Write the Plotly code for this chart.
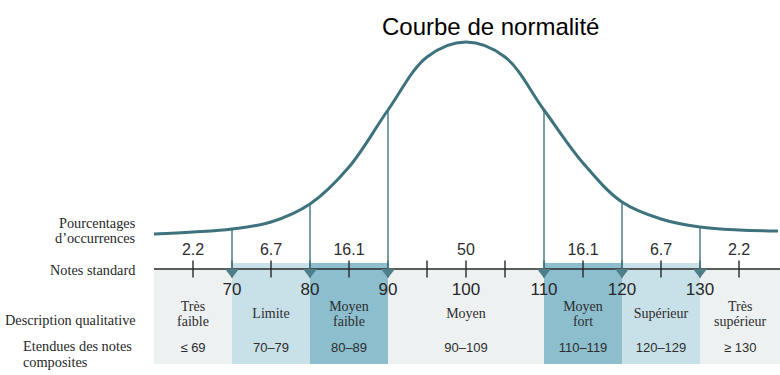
import plotly.graph_objects as go

# ---------------- data ----------------
title_text = "Courbe de normalité"

# normal curve (height above the score axis, in px-like units)
curve_x = [60, 65, 70, 75, 80, 85, 90, 95, 100, 105, 110, 115, 120, 125, 130, 135, 140]
curve_h = [35, 37, 40, 47, 65, 102, 159, 212, 227, 212, 159, 106, 67, 50, 42, 39, 38]

# boundaries with arrows
boundaries = [70, 80, 90, 110, 120, 130]

# percentages of occurrences
pct_x = [65, 75, 85, 100, 115, 125, 135]
pct_labels = ["2.2", "6.7", "16.1", "50", "16.1", "6.7", "2.2"]

# standard scores
tick_vals = [65, 70, 75, 80, 85, 90, 95, 100, 105, 110, 115, 120, 125, 130, 135]
score_labels = [70, 80, 90, 100, 110, 120, 130]

# qualitative categories
cell_lo = [60, 70, 80, 90, 110, 120, 130]
cell_hi = [70, 80, 90, 110, 120, 130, 140.3]
desc_line1 = ["Très", "", "Moyen", "", "Moyen", "", "Très"]
desc_line2 = ["faible", "", "faible", "", "fort", "", "supérieur"]
desc_single = ["", "Limite", "", "Moyen", "", "Supérieur", ""]
cell_range = ["≤ 69", "70–79", "80–89", "90–109", "110–119", "120–129", "≥ 130"]
cell_level = [0, 1, 2, 0, 2, 1, 0]  # shade level

row_label_lines = ["Pourcentages", "d’occurrences", "Notes standard",
                   "Description qualitative", "Etendues des notes", "composites"]

# ---------------- styles ----------------
TEAL = "rgb(62,114,124)"
TEAL_L = "rgb(78,126,136)"
shade_cols = ["rgb(238,241,242)", "rgb(200,224,232)", "rgb(140,190,206)"]
shade_top = [0, 6, 6]
BASE = -95
SERIF = "Liberation Serif, Times New Roman, serif"
SANS = "Liberation Sans, Arial, sans-serif"
TXT = "rgb(45,45,45)"

fig = go.Figure()

# shaded cells
centers = [(a + b) / 2 for a, b in zip(cell_lo, cell_hi)]
widths = [b - a for a, b in zip(cell_lo, cell_hi)]
fig.add_trace(go.Bar(
    x=centers, width=widths, base=[BASE] * len(centers),
    y=[shade_top[l] - BASE for l in cell_level],
    marker=dict(color=[shade_cols[l] for l in cell_level], line=dict(width=0)),
    hoverinfo="skip", showlegend=False))

# axis line
fig.add_trace(go.Scatter(x=[cell_lo[0], cell_hi[-1]], y=[0, 0], mode="lines",
                         line=dict(color="rgb(40,40,40)", width=1.6),
                         hoverinfo="skip", showlegend=False))
# ticks (crossing)
fig.add_trace(go.Scatter(x=tick_vals, y=[0] * len(tick_vals), mode="markers",
                         marker=dict(symbol="line-ns", size=12,
                                     line=dict(color="rgb(40,40,40)", width=1.4)),
                         hoverinfo="skip", showlegend=False))

# vertical lines from curve to axis
vx, vy = [], []
for b in boundaries:
    h = curve_h[curve_x.index(b)]
    vx += [b, b, None]
    vy += [h, -2, None]
fig.add_trace(go.Scatter(x=vx, y=vy, mode="lines", line=dict(color=TEAL_L, width=1.5),
                         hoverinfo="skip", showlegend=False))
# arrowheads
fig.add_trace(go.Scatter(x=boundaries, y=[-3] * len(boundaries), mode="markers",
                         marker=dict(symbol="triangle-down", size=12, color=TEAL_L),
                         hoverinfo="skip", showlegend=False))

# curve
fig.add_trace(go.Scatter(x=curve_x, y=curve_h, mode="lines",
                         line=dict(color=TEAL, width=3, shape="spline", smoothing=1.0),
                         hoverinfo="skip", showlegend=False))

# percentages
fig.add_trace(go.Scatter(x=pct_x, y=[18] * len(pct_x), mode="text", text=pct_labels,
                         textfont=dict(family=SANS, size=16, color=TXT),
                         hoverinfo="skip", showlegend=False))
# score labels
fig.add_trace(go.Scatter(x=score_labels, y=[-22] * len(score_labels), mode="text",
                         text=[str(s) for s in score_labels],
                         textfont=dict(family=SANS, size=17, color="rgb(40,40,40)"),
                         hoverinfo="skip", showlegend=False))
# descriptions
desc_font = dict(family=SERIF, size=14, color=TXT)
fig.add_trace(go.Scatter(x=centers, y=[269 - 307] * len(centers), mode="text", text=desc_line1,
                         textfont=desc_font, hoverinfo="skip", showlegend=False))
fig.add_trace(go.Scatter(x=centers, y=[269 - 322] * len(centers), mode="text", text=desc_line2,
                         textfont=desc_font, hoverinfo="skip", showlegend=False))
fig.add_trace(go.Scatter(x=centers, y=[269 - 314] * len(centers), mode="text", text=desc_single,
                         textfont=desc_font, hoverinfo="skip", showlegend=False))
# ranges
fig.add_trace(go.Scatter(x=centers, y=[269 - 349] * len(centers), mode="text", text=cell_range,
                         textfont=dict(family=SANS, size=13, color=TXT),
                         hoverinfo="skip", showlegend=False))

# row labels (left)
ann = []
row_pos = [(138, 223, "right"), (138, 238, "right"), (137, 270, "right"),
           (138, 320, "right"), (21, 346, "left"), (21, 362, "left")]
for t, (px, py, al) in zip(row_label_lines, row_pos):
    ann.append(dict(x=px / 780, y=1 - py / 375, xref="paper", yref="paper", text=t,
                    showarrow=False, xanchor=al, yanchor="middle", align=al,
                    font=dict(family=SERIF, size=14.3, color="rgb(40,40,40)")))
ann.append(dict(x=490 / 780, y=1 - 27 / 375, xref="paper", yref="paper", text=title_text,
                showarrow=False, xanchor="center", yanchor="middle",
                font=dict(family=SANS, size=24, color="black")))

fig.update_layout(
    width=780, height=375, margin=dict(l=0, r=0, t=0, b=0),
    paper_bgcolor="white", plot_bgcolor="white",
    xaxis=dict(range=[70 - 232 / 7.8, 70 + 548 / 7.8], visible=False, fixedrange=True),
    yaxis=dict(range=[-106, 269], visible=False, fixedrange=True),
    annotations=ann, bargap=0, showlegend=False,
)

fig.write_html("out.html", config={"displayModeBar": False},
               post_script="document.body.style.margin='0';document.body.style.overflow='hidden';")
